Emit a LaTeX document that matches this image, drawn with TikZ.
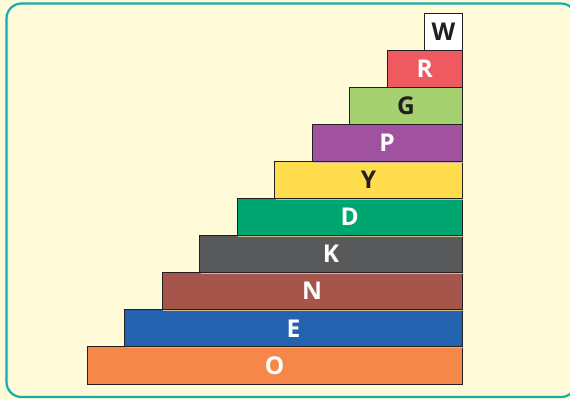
\documentclass[tikz,border=0pt]{standalone}
\usepackage{fontspec}
\setmainfont{Open Sans}
\usetikzlibrary{shadows}
\definecolor{bgyellow}{HTML}{FFFAD7}
\definecolor{frameteal}{HTML}{14AEAE}
\definecolor{cO}{HTML}{F58749}
\definecolor{cE}{HTML}{2262AE}
\definecolor{cN}{HTML}{A5554A}
\definecolor{cK}{HTML}{58595B}
\definecolor{cD}{HTML}{00A66F}
\definecolor{cY}{HTML}{FFDD4C}
\definecolor{cP}{HTML}{A0519F}
\definecolor{cG}{HTML}{A6D170}
\definecolor{cR}{HTML}{EF5960}
\definecolor{txtdark}{HTML}{231F20}
\definecolor{shadowtan}{HTML}{C9BE98}
\begin{document}
\begin{tikzpicture}[x=1pt,y=-1pt,
  bar/.style={draw=txtdark, line width=0.9pt, rectangle, inner sep=0pt,
    minimum height=37.1pt, anchor=north east,
    font=\fontsize{24.5}{26}\selectfont\bfseries, text=white,
    drop shadow={shadow xshift=1.2pt, shadow yshift=-1.2pt, fill=shadowtan, opacity=1}},
  darktext/.style={text=txtdark}]
\useasboundingbox (0,0) rectangle (570,399);
\fill[bgyellow] (0,0) rectangle (570,399);
\draw[frameteal, line width=2.2pt, rounded corners=15pt, fill=bgyellow] (6.5,3.5) rectangle (576,397);
\node[bar, fill=cO, minimum width=374.8pt] (o) at (462.5,346.4) {O};
\node[bar, fill=cE, minimum width=337.3pt] (e) at (462.5,309.3) {E};
\node[bar, fill=cN, minimum width=299.8pt] (n) at (462.5,272.2) {N};
\node[bar, fill=cK, minimum width=262.3pt] (k) at (462.5,235.1) {K};
\node[bar, fill=cD, minimum width=224.8pt] (d) at (462.5,198.0) {D};
\node[bar, darktext, fill=cY, minimum width=187.3pt] (y) at (462.5,160.9) {Y};
\node[bar, fill=cP, minimum width=149.8pt] (p) at (462.5,123.8) {P};
\node[bar, darktext, fill=cG, minimum width=112.3pt] (g) at (462.5,86.7) {G};
\node[bar, fill=cR, minimum width=74.8pt] (r) at (462.5,49.6) {R};
\node[bar, darktext, fill=white, minimum width=37.3pt] (w) at (462.5,12.5) {W};
\end{tikzpicture}
\end{document}
